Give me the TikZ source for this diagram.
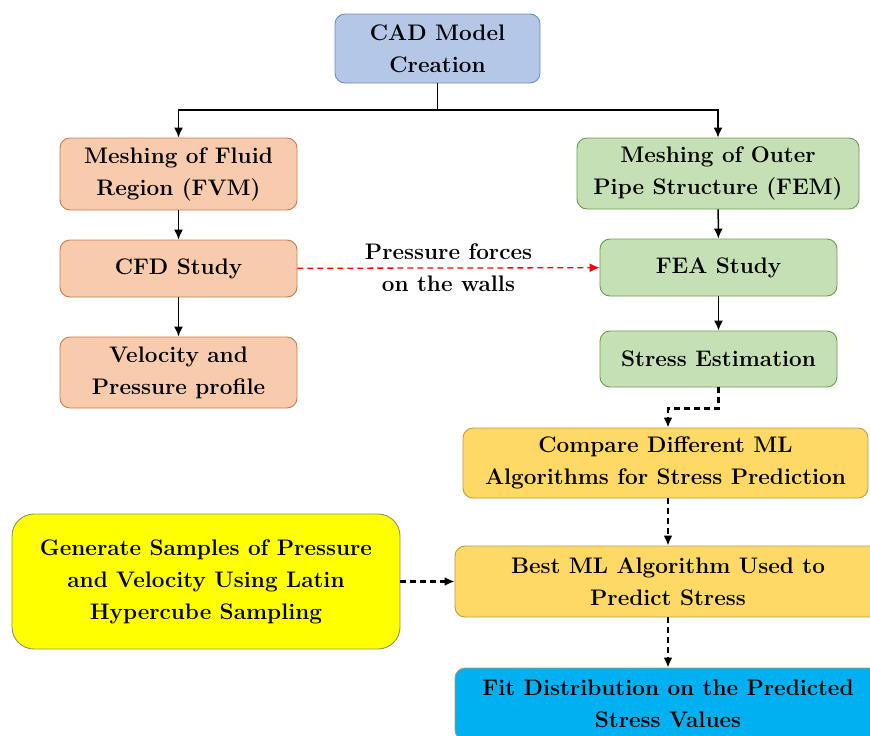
\documentclass[tikz,border=0pt]{standalone}
\usepackage{tikz}
\usetikzlibrary{arrows,arrows.meta,shapes,calc}

\definecolor{cadblue}{HTML}{B4C7E7}
\definecolor{cadline}{HTML}{6C8EBF}
\definecolor{cfdfill}{HTML}{F8CBAD}
\definecolor{cfdline}{HTML}{C97B50}
\definecolor{feafill}{HTML}{C5E0B4}
\definecolor{fealine}{HTML}{6B9A52}
\definecolor{mlfill}{HTML}{FFD966}
\definecolor{mlline}{HTML}{BF9A40}
\definecolor{lhsfill}{HTML}{FFFF00}
\definecolor{lhsline}{HTML}{8A9460}
\definecolor{fitfill}{HTML}{00B0F0}
\definecolor{fitline}{HTML}{B09A6A}

\tikzset{
    boxfont/.style={font=\fontsize{22.5}{32}\selectfont\bfseries},
    box/.style={draw, rounded corners=10pt, line width=0.9pt, align=center,
        boxfont, inner sep=2pt},
    tip/.style={-{Latex[length=10pt,width=9pt]}},
    arrow/.style={tip, line width=1.5pt},
    dasharrow/.style={tip, line width=2.4pt, dash pattern=on 6pt off 4pt},
}

\begin{document}
\begin{tikzpicture}[x=1pt, y=-1pt]
    \useasboundingbox (0,0) rectangle (870,736);
    \clip (0,0) rectangle (870,736);

    % Top box
    \node[box, fill=cadblue, draw=cadline, minimum width=205pt, minimum height=69pt]
        (cad) at (437.5,48.5) {CAD Model\\Creation};

    % Fluid side
    \node[box, fill=cfdfill, draw=cfdline, minimum width=237pt, minimum height=72pt]
        (fluidmesh) at (178.5,174) {Meshing of Fluid\\Region (FVM)};
    \node[box, fill=cfdfill, draw=cfdline, minimum width=237pt, minimum height=57pt]
        (cfd) at (178.5,268.5) {CFD Study};
    \node[box, fill=cfdfill, draw=cfdline, minimum width=237pt, minimum height=71pt]
        (velprof) at (178.5,372.5) {Velocity and\\Pressure profile};

    % Structure side
    \node[box, fill=feafill, draw=fealine, minimum width=282pt, minimum height=71pt]
        (pipemesh) at (718,173.5) {Meshing of Outer\\Pipe Structure (FEM)};
    \node[box, fill=feafill, draw=fealine, minimum width=237pt, minimum height=57pt]
        (fea) at (718.5,267.5) {FEA Study};
    \node[box, fill=feafill, draw=fealine, minimum width=237pt, minimum height=56pt]
        (stress) at (718.5,359) {Stress Estimation};

    % ML part
    \node[box, fill=mlfill, draw=mlline, minimum width=405pt, minimum height=70pt]
        (compare) at (665.5,463) {Compare Different ML\\Algorithms for Stress Prediction};
    \node[box, fill=mlfill, draw=mlline, minimum width=426pt, minimum height=71pt]
        (bestml) at (668,581.5) {Best ML Algorithm Used to\\Predict Stress};
    \node[box, fill=fitfill, draw=fitline, minimum width=426pt, minimum height=72pt]
        (fit) at (668,704) {Fit Distribution on the Predicted\\Stress Values};
    \node[box, fill=lhsfill, draw=lhsline, rounded corners=22pt, minimum width=388pt, minimum height=135pt]
        (samples) at (206,581.5) {Generate Samples of Pressure\\and Velocity Using Latin\\Hypercube Sampling};

    % Split from CAD
    \coordinate (split) at (437.5,110);
    \draw[line width=1.5pt] (cad.south) -- (split);
    \draw[arrow] (split) -| (fluidmesh.north);
    \draw[arrow] (split) -| (pipemesh.north);

    % Solid arrows
    \draw[arrow] (fluidmesh) -- (cfd);
    \draw[arrow] (cfd) -- (velprof);
    \draw[arrow] (pipemesh) -- (fea);
    \draw[arrow] (fea) -- (stress);

    % Pressure coupling
    \draw[tip, red, line width=1.3pt, dash pattern=on 6pt off 4pt] (cfd) -- (fea)
        node[midway, align=center, boxfont, text=black] {Pressure forces\\on the walls};

    % Dashed arrows
    \draw[dasharrow] (stress.south) -- ++(0,21) -| (compare.north -| bestml.north);
    \draw[dasharrow] (compare.south -| bestml.north) -- (bestml.north);
    \draw[dasharrow] (samples) -- (bestml);
    \draw[dasharrow] (bestml) -- (fit);
\end{tikzpicture}
\end{document}
